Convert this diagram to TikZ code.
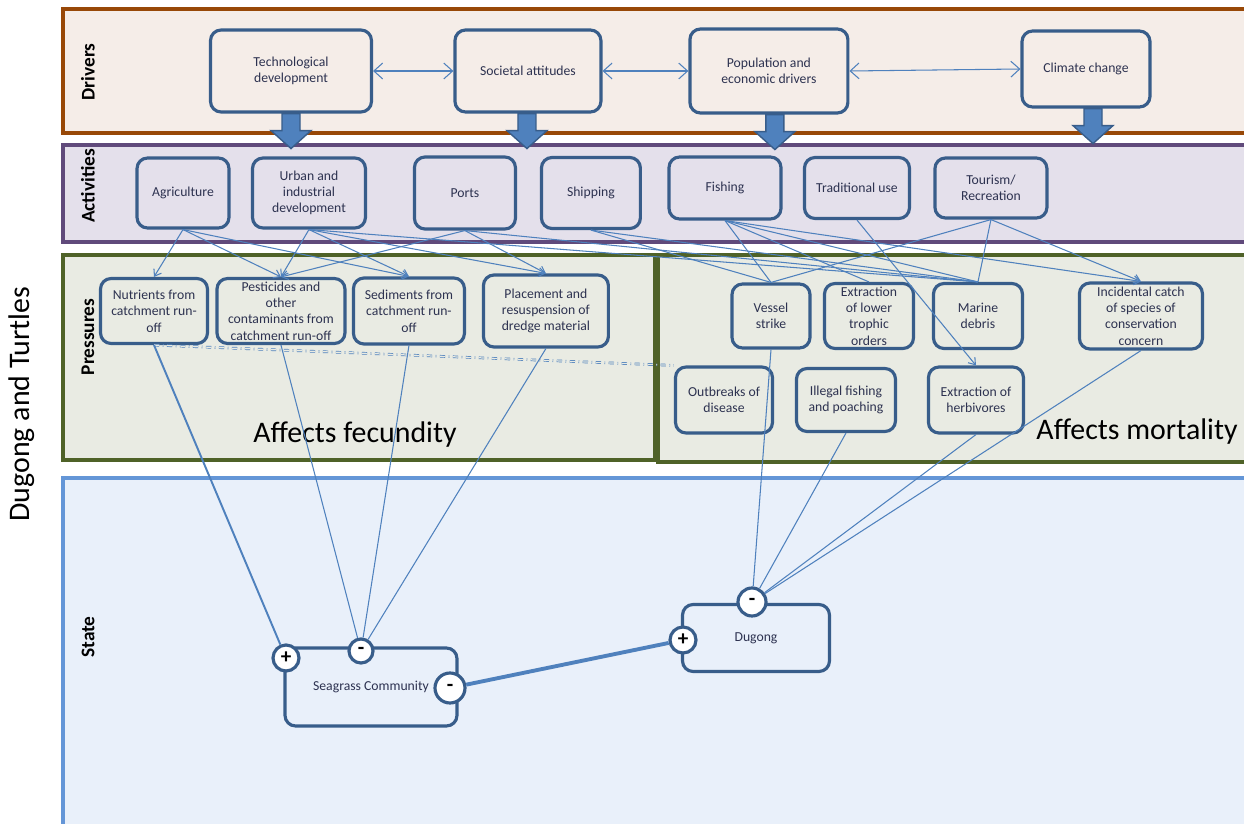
\documentclass[tikz,border=0pt]{standalone}
\usepackage{fontspec}
\setmainfont{Carlito}
\usetikzlibrary{positioning,arrows.meta}
\tikzset{>={Straight Barb[length=3.5pt,width=5pt]}}

\definecolor{boxline}{RGB}{56,93,138}
\definecolor{boxtext}{RGB}{45,50,80}
\definecolor{linkblue}{RGB}{79,129,189}
\definecolor{drvline}{RGB}{152,72,7}
\definecolor{drvfill}{RGB}{245,237,232}
\definecolor{actline}{RGB}{96,74,123}
\definecolor{actfill}{RGB}{228,224,235}
\definecolor{prsline}{RGB}{79,98,40}
\definecolor{prsfill}{RGB}{233,235,227}
\definecolor{stline}{RGB}{100,150,215}
\definecolor{stfill}{RGB}{233,240,250}

\tikzset{
  box/.style={draw=boxline, line width=1.8pt, rounded corners=6pt, align=center, text=boxtext, inner sep=1pt, font=\fontsize{7.8}{9.3}\selectfont},
  link/.style={draw=linkblue, line width=0.6pt},
  sign/.style={circle, draw=boxline, line width=1.8pt, fill=white, inner sep=0pt, minimum size=0.5cm, font=\bfseries\fontsize{12}{12}\selectfont},
  bandlabel/.style={rotate=90, font=\bfseries\fontsize{11}{11}\selectfont},
  bigtext/.style={font=\fontsize{17}{17}\selectfont},
  blockarrow/.style={fill=linkblue, draw=boxline, line width=0.8pt},
}

\begin{document}
\begin{tikzpicture}[x=0.02cm, y=-0.02cm]
  \useasboundingbox (0,0) rectangle (1244,824);
  \clip (0,0) rectangle (1244,824);

  % bands
  \draw[drvline, fill=drvfill, line width=2.3pt] (63,9) rectangle (1260,133);
  \draw[actline, fill=actfill, line width=2.3pt] (63,145) rectangle (1260,242);
  \draw[prsline, fill=prsfill, line width=2.5pt] (63,255) rectangle (655,460);
  \draw[prsline, fill=prsfill, line width=2.5pt] (658,255) rectangle (1260,462);
  \draw[stline, fill=stfill, line width=2pt] (63,478) rectangle (1260,840);

  \node[bigtext, rotate=90] (title) at (22,404) {Dugong and Turtles};
  \node[bandlabel] (lbldrv) at (88,72) {Drivers};
  \node[bandlabel] (lblact) at (88,186) {Activities};
  \node[bandlabel] (lblprs) at (88,337) {Pressures};
  \node[bandlabel] (lblst) at (88,637) {State};
  \node[bigtext] (fecund) at (355,435) {Affects fecundity};
  \node[bigtext] (mortal) at (1137,432) {Affects mortality};

  % drivers
  \node[box, minimum width=3.22cm, minimum height=1.64cm] (tech) at (291,71) {Technological\\development};
  \node[box, minimum width=2.92cm, minimum height=1.64cm, right of=tech, node distance=4.74cm] (soc) {Societal attitudes};
  \node[box, minimum width=3.16cm, minimum height=1.68cm, right of=soc, node distance=4.82cm] (pop) {Population and\\economic drivers};
  \node[box, minimum width=2.56cm, minimum height=1.52cm] (clim) at (1086,69) {Climate change};

  \draw[link, <->, >={Straight Barb[length=5pt,width=9pt]}] (tech) -- (soc);
  \draw[link, <->, >={Straight Barb[length=5pt,width=9pt]}] (soc) -- (pop);
  \draw[link, <->, >={Straight Barb[length=5pt,width=9pt]}] (pop.east) -- (clim.west);

  \foreach \d/\s in {tech/0,soc/-1,pop/6,clim/7}
    \draw[blockarrow] (\d.south) ++(\s-9,0) -- ++(0,17) -- ++(-11,0) -- ++(20,18) -- ++(20,-18) -- ++(-11,0) -- ++(0,-17) -- cycle;

  % activities
  \node[box, minimum width=1.84cm, minimum height=1.4cm] (agri) at (183,193) {Agriculture};
  \node[box, minimum width=2.26cm, minimum height=1.4cm, right of=agri, node distance=2.52cm] (urban) {Urban and\\industrial\\development};
  \node[box, minimum width=2.02cm, minimum height=1.44cm, right of=urban, node distance=3.12cm] (ports) {Ports};
  \node[box, minimum width=1.98cm, minimum height=1.42cm, right of=ports, node distance=2.52cm] (ship) {Shipping};
  \node[box, minimum width=2.24cm, minimum height=1.24cm] (fish) at (725,188) {Fishing};
  \node[box, minimum width=2.1cm, minimum height=1.22cm, right of=fish, node distance=2.64cm] (trad) {Traditional use};
  \node[box, minimum width=2.24cm, minimum height=1.2cm, right of=trad, node distance=2.68cm] (tour) {Tourism/\\Recreation};

  % pressures
  \node[box, minimum width=2.14cm, minimum height=1.3cm] (nutr) at (154,311) {Nutrients from\\catchment run-\\off};
  \node[box, minimum width=2.56cm, minimum height=1.3cm, right of=nutr, node distance=2.54cm] (pest) {Pesticides and\\other\\contaminants from\\catchment run-off};
  \node[box, minimum width=2.22cm, minimum height=1.32cm, right of=pest, node distance=2.56cm] (sedi) {Sediments from\\catchment run-\\off};
  \node[box, minimum width=2.5cm, minimum height=1.44cm, right of=sedi, node distance=2.74cm] (place) {Placement and\\resuspension of\\dredge material};
  \node[box, minimum width=1.56cm, minimum height=1.28cm] (vessel) at (771,316) {Vessel\\strike};
  \node[box, minimum width=1.78cm, minimum height=1.3cm, right of=vessel, node distance=1.96cm] (extlow) {Extraction\\of lower\\trophic\\orders};
  \node[box, minimum width=1.78cm, minimum height=1.3cm, right of=extlow, node distance=2.18cm] (debris) {Marine\\debris};
  \node[box, minimum width=2.46cm, minimum height=1.32cm, right of=debris, node distance=3.26cm] (incid) {Incidental catch\\of species of\\conservation\\concern};
  \node[box, minimum width=1.94cm, minimum height=1.32cm] (outb) at (724,400) {Outbreaks of\\disease};
  \node[box, minimum width=1.98cm, minimum height=1.26cm, right of=outb, node distance=2.44cm] (illeg) {Illegal fishing\\and poaching};
  \node[box, minimum width=1.9cm, minimum height=1.32cm, right of=illeg, node distance=2.6cm] (herb) {Extraction of\\herbivores};

  % state
  \node[box, minimum width=3.44cm, minimum height=1.56cm] (sea) at (371,687) {Seagrass Community};
  \node[box, minimum width=2.94cm, minimum height=1.34cm] (dug) at (756,638) {Dugong};

  % activities -> pressures
  \foreach \a/\b in {agri/nutr, agri/pest, agri/sedi, urban/pest, urban/sedi, urban/place, ports/pest, ports/place, fish/incid, trad/herb, tour/incid}
    \draw[link, ->] (\a.south) -- (\b.north);
  \foreach \a/\b in {urban/debris, ports/debris, ship/vessel, ship/debris, fish/vessel, fish/extlow, fish/debris, tour/vessel, tour/debris}
    \draw[link] (\a.south) -- (\b.north);

  \draw[linkblue, dash dot, line width=0.4pt, double=prsfill, double distance=0.7pt] (nutr.south) -- (outb.north west);

  % signs
  \node[sign, minimum size=0.52cm] (sgplus) at (286,658) {+};
  \node[sign, minimum size=0.48cm] (sgminus) at (361,651) {-};
  \node[sign, minimum size=0.6cm] (sgright) at (450,688) {-};
  \node[sign, minimum size=0.52cm] (dugplus) at (683,640) {+};
  \node[sign, minimum size=0.56cm] (dugminus) at (752,602) {-};

  % pressures -> state
  \draw[link, line width=1.1pt] (nutr.south) -- (sgplus);
  \foreach \p in {pest, sedi, place}
    \draw[link] (\p.south) -- (sgminus);
  \foreach \p in {vessel, illeg, herb, incid}
    \draw[link] (\p.south) -- (dugminus);
  \draw[link, line width=2.2pt] (sgright) -- (dugplus);
\end{tikzpicture}
\end{document}
